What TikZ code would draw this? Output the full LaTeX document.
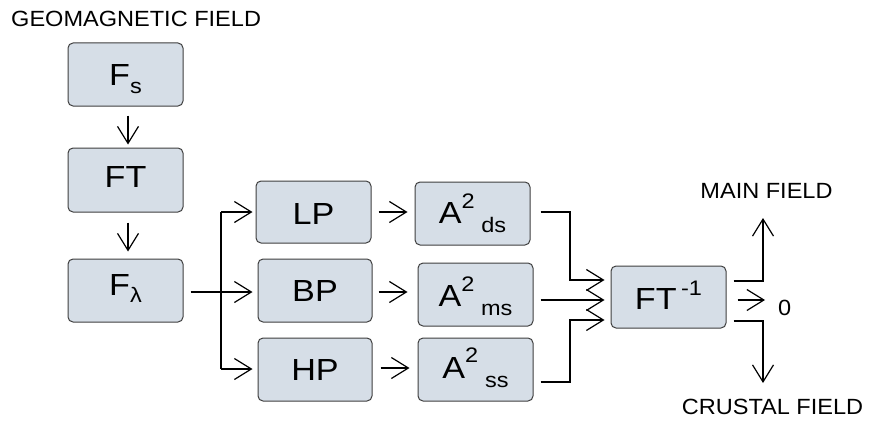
\documentclass[tikz,border=0pt]{standalone}
\usepackage{fontspec}
\setmainfont{Liberation Sans}
\usetikzlibrary{arrows.meta,calc}

\definecolor{boxfill}{HTML}{D6DEE7}
\definecolor{boxline}{HTML}{3F3F3F}

% slightly widened lettering
\newcommand\wide[1]{\scalebox{1.12}[1]{#1}}
\newcommand\capwide[1]{\scalebox{1.07}[1]{#1}}
% lowered / raised small text inside the blocks
\newcommand\lowtxt[2]{\raisebox{-#1}{\fontsize{21}{21}\selectfont #2}}
\newcommand\hightxt[2]{\raisebox{#1}{\fontsize{21}{21}\selectfont #2}}

\tikzset{
  blk/.style={draw=boxline, fill=boxfill, rounded corners=5pt, line width=1pt,
    minimum width=115pt, minimum height=63pt, inner sep=0pt,
    font=\fontsize{30.5}{30.5}\selectfont, text depth=0pt, text height=21pt},
  wire/.style={line width=1.2pt, black},
  flow/.style={wire, -{Straight Barb[length=17pt,width=21pt,line width=1.2pt]}},
  lbl/.style={font=\fontsize{22}{22}\selectfont, inner sep=0pt},
}

\begin{document}
\begin{tikzpicture}[x=1pt, y=-1pt]
\useasboundingbox (0,0) rectangle (874,420);

% processing blocks
\node[blk, text height=21pt] (fs) at (125.5,74.5) {\wide{F\lowtxt{8pt}{s}}};
\node[blk, minimum height=64pt, text height=14pt] (ft) at (125.5,180) {\wide{FT}};
\node[blk, text height=9pt] (fl) at (125.5,290.5) {\wide{F\lowtxt{7pt}{λ}}};

\node[blk, minimum height=62pt, text height=24pt] (lp) at (313.5,212) {\wide{LP}};
\node[blk, minimum width=114pt, text height=22pt] (bp) at (315,290.5) {\wide{BP}};
\node[blk, minimum width=114pt, text height=21pt] (hp) at (315,369.5) {\wide{HP}};

\node[blk, text height=19pt] (ads) at (472.5,213.5) {\wide{A\hightxt{15pt}{2}\hspace{6pt}\lowtxt{9pt}{ds}}};
\node[blk, text height=24pt] (ams) at (475.5,294.5) {\wide{A\hightxt{15pt}{2}\hspace{6pt}\lowtxt{9pt}{ms}}};
\node[blk, text height=17pt] (ass) at (475.5,369.5) {\wide{A\hightxt{16pt}{2}\hspace{6pt}\lowtxt{9pt}{ss}}};

\node[blk, minimum height=62pt, text height=24pt] (fti) at (668.5,297) {\wide{FT\hspace{4pt}\hightxt{14pt}{-1}}};

% captions
\node[lbl, anchor=base west] (geo) at (11,27) {\capwide{GEOMAGNETIC FIELD}};
\node[lbl, anchor=base] (mainf) at (766.5,198) {\capwide{MAIN FIELD}};
\node[lbl, anchor=base] (crust) at (772.5,414) {\capwide{CRUSTAL FIELD}};
\node[lbl, anchor=base west] (zero) at (778,315) {\capwide{0}};

% vertical chain
\draw[flow] ([xshift=2.5pt,yshift=-9pt]fs.south) -- ([xshift=2.5pt,yshift=3pt]ft.north);
\draw[flow] ([xshift=2.5pt,yshift=-10pt]ft.south) -- ([xshift=2.5pt,yshift=7pt]fl.north);

% split into the three filters
\coordinate (jtop) at (221,212);
\coordinate (jmid) at (221,292);
\coordinate (jbot) at (221,369);
\draw[wire] (jtop) -- (jbot);
\draw[flow, shorten <=7pt, shorten >=5pt] (fl.east |- jmid) -- (bp.west |- jmid);
\draw[flow, shorten >=3pt] (jtop) -- (lp.west |- jtop);
\draw[flow, shorten >=5pt] (jbot) -- (hp.west |- jbot);

% filters to squared amplitudes
\coordinate (r1) at (0,212);
\coordinate (r2) at (0,292);
\coordinate (r3) at (0,368);
\draw[flow, shorten <=7pt, shorten >=7pt] (lp.east |- r1) -- (ads.west |- r1);
\draw[flow, shorten <=6pt, shorten >=10pt] (bp.east |- r2) -- (ams.west |- r2);
\draw[flow, shorten <=8pt, shorten >=8pt] (hp.east |- r3) -- (ass.west |- r3);

% merge into the inverse transform
\coordinate (ma) at (570,212);
\coordinate (mb) at (570,280);
\coordinate (mc) at (570,300);
\coordinate (md) at (570,320);
\coordinate (me) at (570,382);
\draw[flow, shorten >=6pt] ([xshift=10pt]ads.east |- ma) -- (ma) -- (mb) -- (fti.west |- mb);
\draw[flow, shorten >=6pt] ([xshift=7pt]ams.east |- mc) -- (fti.west |- mc);
\draw[flow, shorten >=6pt] ([xshift=7pt]ass.east |- me) -- (me) -- (md) -- (fti.west |- md);

% outputs
\coordinate (oa) at (763,281);
\coordinate (ob) at (763,218);
\coordinate (oc) at (765,300);
\coordinate (od) at (763,321);
\coordinate (oe) at (763,383);
\draw[flow] ([xshift=7pt]fti.east |- oa) -- (oa) -- (ob);
\draw[flow] ([xshift=11pt]fti.east |- oc) -- (oc);
\draw[flow] ([xshift=7pt]fti.east |- od) -- (od) -- (oe);
\end{tikzpicture}
\end{document}
